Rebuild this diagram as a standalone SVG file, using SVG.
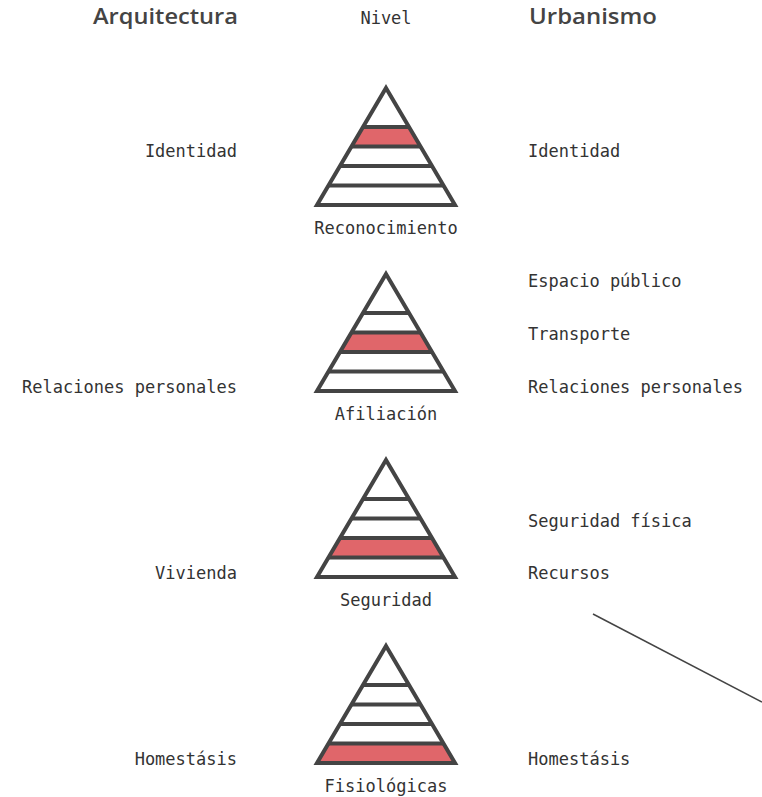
<svg xmlns="http://www.w3.org/2000/svg" width="762" height="797" viewBox="0 0 762 797">
  <style>
    .hdr { font-family: "Open Sans", "DejaVu Sans", sans-serif; font-weight: 600; font-size: 21px; fill: #444; }
    .lbl { font-family: "DejaVu Sans Mono", "Liberation Mono", monospace; font-size: 17px; fill: #333; }
    .end { text-anchor: end; }
    .mid { text-anchor: middle; }
    .outline { fill: none; stroke: #444; stroke-width: 4; stroke-linejoin: miter; }
    .band { stroke: #444; stroke-width: 4; }
    .red { fill: #e0666a; stroke: none; }
    .conn { stroke: #444; stroke-width: 1.5; fill: none; }
  </style>
  <defs>
    <g id="pyr-frame">
      <polygon class="outline" points="0,0 69,117 -69,117"/>
      <line class="band" x1="-23" y1="39" x2="23" y2="39"/>
      <line class="band" x1="-34.2" y1="58.5" x2="34.2" y2="58.5"/>
      <line class="band" x1="-46" y1="78" x2="46" y2="78"/>
      <line class="band" x1="-57.2" y1="97.5" x2="57.2" y2="97.5"/>
    </g>
  </defs>
  <rect width="762" height="797" fill="#ffffff"/>

  <g id="headers">
    <text class="hdr end" x="238" y="24" textLength="145" lengthAdjust="spacingAndGlyphs">Arquitectura</text>
    <text class="lbl mid" x="386" y="24">Nivel</text>
    <text class="hdr" x="529" y="24" textLength="128" lengthAdjust="spacingAndGlyphs">Urbanismo</text>
  </g>

  <g id="pyramid-reconocimiento" transform="translate(386,88)">
    <polygon class="red" points="-23,39 23,39 34.2,58.5 -34.2,58.5"/>
    <use href="#pyr-frame"/>
    <text class="lbl mid" x="0" y="146">Reconocimiento</text>
  </g>
  <g id="pyramid-afiliacion" transform="translate(386,274)">
    <polygon class="red" points="-34.2,58.5 34.2,58.5 46,78 -46,78"/>
    <use href="#pyr-frame"/>
    <text class="lbl mid" x="0" y="146">Afiliación</text>
  </g>
  <g id="pyramid-seguridad" transform="translate(386,460)">
    <polygon class="red" points="-46,78 46,78 57.2,97.5 -57.2,97.5"/>
    <use href="#pyr-frame"/>
    <text class="lbl mid" x="0" y="146">Seguridad</text>
  </g>
  <g id="pyramid-fisiologicas" transform="translate(386,646)">
    <polygon class="red" points="-57.2,97.5 57.2,97.5 69,117 -69,117"/>
    <use href="#pyr-frame"/>
    <text class="lbl mid" x="0" y="146">Fisiológicas</text>
  </g>

  <g id="arq-labels">
    <text class="lbl end" x="237" y="157">Identidad</text>
    <text class="lbl end" x="237" y="393">Relaciones personales</text>
    <text class="lbl end" x="237" y="579">Vivienda</text>
    <text class="lbl end" x="237" y="765">Homestásis</text>
  </g>

  <g id="urb-labels">
    <text class="lbl" x="528" y="157">Identidad</text>
    <text class="lbl" x="528" y="287">Espacio público</text>
    <text class="lbl" x="528" y="340">Transporte</text>
    <text class="lbl" x="528" y="393">Relaciones personales</text>
    <text class="lbl" x="528" y="527">Seguridad física</text>
    <text class="lbl" x="528" y="579">Recursos</text>
    <text class="lbl" x="528" y="765">Homestásis</text>
  </g>

  <g id="connectors">
    <line class="conn" x1="593" y1="614" x2="762" y2="702"/>
  </g>
</svg>
